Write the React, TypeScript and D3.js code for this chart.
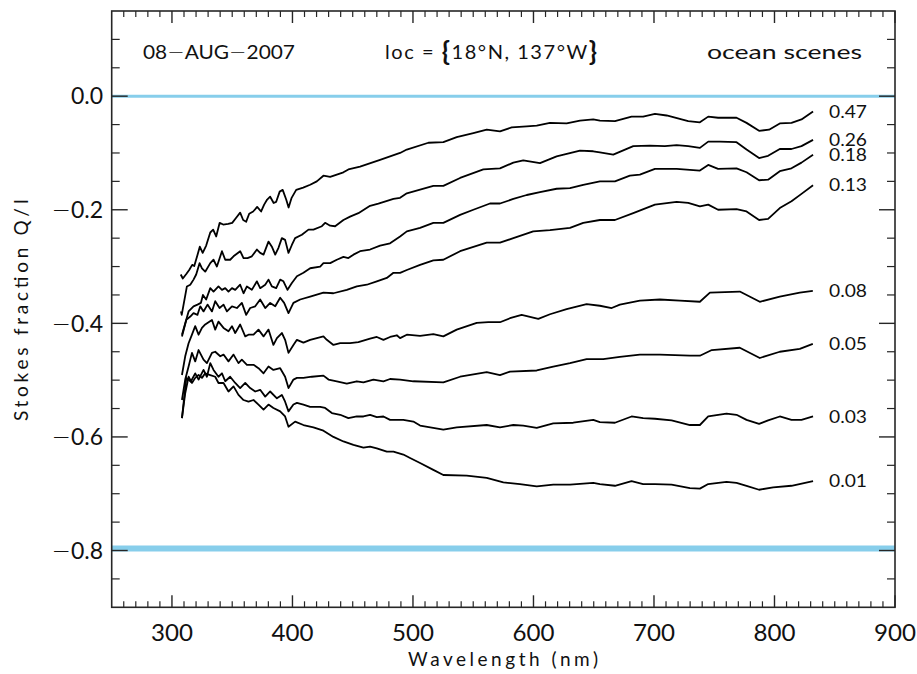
import React from "react";
import * as d3 from "d3";

// ---------- data (wavelength nm, Stokes fraction Q/I) ----------
const c047: [number, number][] = [[307.3,-0.314],[309.0,-0.321],[311.9,-0.313],[314.3,-0.306],[316.8,-0.297],[318.5,-0.299],[321.0,-0.281],[323.1,-0.265],[325.5,-0.276],[328.4,-0.263],[331.8,-0.240],[334.2,-0.235],[336.7,-0.247],[339.6,-0.223],[342.5,-0.226],[346.7,-0.225],[350.0,-0.223],[353.3,-0.214],[356.6,-0.205],[359.1,-0.218],[361.6,-0.221],[364.1,-0.207],[367.4,-0.203],[370.7,-0.195],[374.0,-0.203],[376.5,-0.191],[379.0,-0.182],[381.5,-0.177],[384.4,-0.188],[386.5,-0.186],[389.4,-0.168],[391.9,-0.165],[394.8,-0.182],[396.8,-0.196],[399.3,-0.179],[403.1,-0.165],[408.9,-0.161],[414.7,-0.156],[420.2,-0.150],[425.7,-0.140],[431.3,-0.142],[442.3,-0.134],[446.4,-0.129],[456.1,-0.124],[472.7,-0.112],[489.3,-0.100],[494.9,-0.094],[512.8,-0.082],[525.2,-0.081],[536.3,-0.072],[550.1,-0.065],[561.2,-0.059],[572.2,-0.062],[581.9,-0.055],[594.4,-0.053],[602.7,-0.052],[613.7,-0.047],[627.5,-0.048],[638.6,-0.043],[649.6,-0.041],[655.1,-0.043],[667.6,-0.044],[681.4,-0.036],[691.0,-0.036],[700.8,-0.031],[710.5,-0.034],[728.4,-0.044],[738.1,-0.046],[745.0,-0.036],[753.2,-0.038],[768.5,-0.038],[776.8,-0.047],[787.2,-0.061],[795.5,-0.059],[804.4,-0.048],[814.1,-0.047],[822.4,-0.041],[832.0,-0.027]];
const c026: [number, number][] = [[307.5,-0.379],[308.1,-0.385],[312.4,-0.335],[315.2,-0.332],[317.9,-0.323],[320.1,-0.314],[322.9,-0.294],[324.9,-0.303],[327.6,-0.309],[331.8,-0.294],[334.5,-0.288],[337.3,-0.300],[341.5,-0.273],[344.2,-0.288],[348.3,-0.288],[351.1,-0.282],[356.6,-0.273],[359.4,-0.285],[362.7,-0.285],[366.3,-0.282],[370.5,-0.270],[373.2,-0.276],[376.0,-0.279],[380.1,-0.256],[382.9,-0.265],[385.7,-0.279],[388.4,-0.267],[391.2,-0.250],[393.9,-0.253],[396.7,-0.276],[399.5,-0.262],[402.2,-0.250],[407.8,-0.244],[413.3,-0.235],[417.4,-0.235],[424.4,-0.229],[427.1,-0.223],[431.3,-0.228],[435.4,-0.229],[442.3,-0.218],[447.8,-0.212],[454.7,-0.206],[464.4,-0.193],[471.3,-0.189],[483.8,-0.181],[489.3,-0.179],[494.9,-0.171],[516.9,-0.158],[525.2,-0.158],[539.1,-0.144],[558.4,-0.129],[572.2,-0.127],[583.3,-0.117],[591.5,-0.113],[605.4,-0.118],[619.2,-0.106],[638.6,-0.096],[649.6,-0.097],[655.1,-0.099],[666.2,-0.103],[682.8,-0.088],[696.6,-0.087],[709.0,-0.088],[718.8,-0.086],[728.4,-0.088],[738.1,-0.091],[745.0,-0.080],[754.6,-0.080],[768.5,-0.081],[776.8,-0.094],[787.2,-0.109],[794.7,-0.105],[804.4,-0.093],[814.1,-0.093],[822.4,-0.088],[832.0,-0.077]];
const c018: [number, number][] = [[308.3,-0.420],[313.8,-0.379],[317.9,-0.370],[321.2,-0.367],[324.0,-0.364],[325.7,-0.350],[328.4,-0.358],[331.8,-0.338],[334.5,-0.344],[338.6,-0.335],[341.5,-0.341],[344.2,-0.338],[346.9,-0.344],[349.8,-0.338],[352.5,-0.341],[356.6,-0.332],[359.4,-0.347],[362.2,-0.335],[366.3,-0.341],[370.5,-0.326],[373.2,-0.338],[377.4,-0.332],[380.1,-0.323],[382.9,-0.335],[386.5,-0.338],[389.8,-0.323],[392.5,-0.326],[395.9,-0.341],[399.5,-0.329],[403.7,-0.317],[409.1,-0.311],[414.7,-0.303],[423.0,-0.300],[425.7,-0.294],[431.3,-0.294],[436.8,-0.288],[442.3,-0.283],[446.4,-0.285],[450.6,-0.279],[456.1,-0.273],[464.4,-0.270],[472.7,-0.263],[481.0,-0.259],[489.3,-0.247],[494.9,-0.238],[505.9,-0.232],[516.9,-0.223],[525.2,-0.223],[539.1,-0.209],[550.1,-0.200],[563.9,-0.189],[572.2,-0.189],[583.3,-0.181],[594.4,-0.174],[605.4,-0.169],[619.2,-0.163],[630.3,-0.162],[641.3,-0.156],[655.1,-0.150],[667.6,-0.150],[680.0,-0.140],[688.3,-0.138],[700.8,-0.128],[718.8,-0.128],[738.1,-0.131],[745.0,-0.121],[753.2,-0.128],[768.5,-0.127],[776.8,-0.134],[787.2,-0.148],[794.7,-0.147],[804.4,-0.132],[814.1,-0.127],[822.4,-0.117],[832.0,-0.103]];
const c013: [number, number][] = [[308.3,-0.423],[311.9,-0.394],[315.2,-0.388],[317.9,-0.382],[321.2,-0.385],[323.5,-0.370],[326.2,-0.379],[329.5,-0.367],[333.2,-0.379],[335.9,-0.361],[339.5,-0.373],[342.8,-0.367],[345.6,-0.379],[349.8,-0.370],[353.9,-0.373],[358.0,-0.364],[361.6,-0.385],[364.9,-0.373],[369.1,-0.370],[373.2,-0.358],[377.4,-0.373],[381.5,-0.364],[385.7,-0.370],[389.8,-0.355],[393.1,-0.364],[396.7,-0.382],[400.8,-0.364],[406.4,-0.358],[414.7,-0.353],[425.7,-0.346],[434.0,-0.347],[445.1,-0.341],[453.4,-0.335],[461.7,-0.332],[470.0,-0.326],[478.3,-0.320],[483.8,-0.311],[489.3,-0.311],[494.9,-0.306],[505.9,-0.297],[516.9,-0.289],[525.2,-0.288],[539.1,-0.273],[561.2,-0.258],[572.2,-0.258],[583.3,-0.250],[599.8,-0.238],[613.7,-0.236],[630.3,-0.232],[641.3,-0.223],[655.1,-0.218],[667.6,-0.218],[682.8,-0.206],[700.8,-0.191],[718.8,-0.186],[728.4,-0.188],[738.1,-0.194],[745.0,-0.191],[753.2,-0.200],[768.5,-0.199],[776.8,-0.203],[787.2,-0.218],[794.7,-0.216],[804.4,-0.197],[814.1,-0.185],[822.4,-0.172],[832.0,-0.157]];
const c008: [number, number][] = [[308.3,-0.491],[311.0,-0.458],[313.8,-0.435],[316.6,-0.420],[319.3,-0.405],[322.1,-0.420],[324.9,-0.408],[327.6,-0.402],[333.2,-0.394],[335.9,-0.411],[338.6,-0.397],[342.8,-0.408],[346.9,-0.414],[349.8,-0.405],[352.5,-0.417],[356.6,-0.402],[360.8,-0.423],[363.5,-0.420],[367.7,-0.420],[371.8,-0.411],[376.0,-0.423],[380.1,-0.411],[384.2,-0.438],[387.1,-0.426],[391.2,-0.417],[393.9,-0.429],[396.7,-0.452],[400.8,-0.438],[403.7,-0.429],[409.1,-0.434],[414.7,-0.429],[425.7,-0.423],[428.5,-0.429],[434.0,-0.438],[439.6,-0.435],[447.8,-0.435],[454.7,-0.433],[464.4,-0.427],[470.0,-0.424],[475.5,-0.429],[481.0,-0.424],[486.6,-0.421],[489.3,-0.426],[494.9,-0.420],[505.9,-0.422],[516.9,-0.419],[525.2,-0.423],[536.3,-0.411],[552.9,-0.399],[562.5,-0.398],[572.2,-0.398],[580.5,-0.391],[590.2,-0.385],[604.0,-0.392],[613.7,-0.384],[627.5,-0.375],[644.1,-0.366],[655.1,-0.369],[664.9,-0.373],[671.7,-0.367],[688.3,-0.360],[704.9,-0.358],[721.5,-0.360],[738.1,-0.362],[746.4,-0.346],[771.2,-0.344],[787.8,-0.362],[804.4,-0.353],[821.0,-0.346],[831.8,-0.343]];
const c005: [number, number][] = [[308.3,-0.535],[311.0,-0.499],[313.8,-0.476],[316.6,-0.452],[319.3,-0.467],[322.1,-0.447],[326.2,-0.464],[329.0,-0.470],[333.2,-0.452],[335.9,-0.450],[340.1,-0.458],[342.8,-0.455],[346.9,-0.467],[351.1,-0.455],[355.2,-0.470],[358.0,-0.464],[362.2,-0.473],[367.7,-0.473],[371.8,-0.479],[376.0,-0.488],[380.1,-0.476],[384.2,-0.482],[389.8,-0.479],[393.9,-0.494],[396.7,-0.514],[400.8,-0.499],[403.7,-0.496],[409.1,-0.496],[416.1,-0.494],[425.7,-0.492],[429.9,-0.499],[436.8,-0.502],[445.1,-0.506],[453.4,-0.502],[458.9,-0.504],[467.2,-0.499],[475.5,-0.502],[481.0,-0.498],[489.3,-0.499],[500.3,-0.502],[525.2,-0.504],[539.1,-0.494],[561.2,-0.486],[572.2,-0.491],[580.5,-0.485],[602.7,-0.483],[616.4,-0.476],[630.3,-0.470],[644.1,-0.463],[657.9,-0.463],[671.7,-0.459],[688.3,-0.455],[704.9,-0.455],[729.8,-0.457],[738.1,-0.457],[748.0,-0.447],[771.2,-0.443],[787.8,-0.461],[804.4,-0.450],[821.0,-0.445],[831.8,-0.436]];
const c003: [number, number][] = [[308.3,-0.567],[311.0,-0.523],[313.8,-0.494],[315.8,-0.502],[319.3,-0.488],[322.1,-0.499],[326.2,-0.482],[329.0,-0.494],[331.8,-0.470],[334.5,-0.482],[338.6,-0.494],[341.5,-0.488],[344.2,-0.502],[348.3,-0.494],[352.5,-0.505],[356.6,-0.514],[360.8,-0.505],[364.9,-0.514],[369.1,-0.520],[373.2,-0.517],[377.4,-0.529],[381.5,-0.520],[387.1,-0.532],[391.2,-0.526],[393.9,-0.538],[396.7,-0.555],[400.8,-0.543],[403.7,-0.540],[409.1,-0.543],[414.7,-0.547],[423.0,-0.547],[427.1,-0.549],[432.7,-0.558],[439.6,-0.561],[446.4,-0.567],[453.4,-0.564],[458.9,-0.564],[464.4,-0.561],[470.0,-0.565],[475.5,-0.564],[481.0,-0.570],[492.0,-0.570],[500.3,-0.573],[505.9,-0.580],[525.2,-0.587],[536.3,-0.583],[561.2,-0.579],[572.2,-0.583],[583.3,-0.579],[591.5,-0.580],[602.7,-0.584],[616.4,-0.576],[633.0,-0.575],[649.6,-0.570],[655.1,-0.574],[667.6,-0.575],[681.4,-0.564],[691.0,-0.567],[700.8,-0.568],[714.6,-0.571],[729.8,-0.579],[738.1,-0.579],[745.0,-0.564],[760.2,-0.559],[768.5,-0.561],[776.8,-0.570],[787.2,-0.577],[794.7,-0.571],[804.4,-0.564],[814.1,-0.570],[822.4,-0.570],[832.0,-0.564]];
const c001: [number, number][] = [[308.3,-0.567],[311.9,-0.496],[313.8,-0.499],[316.6,-0.505],[319.3,-0.496],[322.1,-0.491],[324.9,-0.496],[327.6,-0.488],[331.8,-0.491],[335.9,-0.494],[338.6,-0.505],[342.8,-0.505],[346.9,-0.520],[351.1,-0.511],[355.2,-0.526],[359.4,-0.535],[363.5,-0.538],[367.7,-0.535],[371.8,-0.543],[376.0,-0.552],[380.1,-0.543],[384.2,-0.549],[389.8,-0.555],[393.9,-0.564],[396.7,-0.582],[402.2,-0.573],[409.1,-0.579],[417.4,-0.583],[425.7,-0.589],[434.0,-0.600],[442.3,-0.608],[450.6,-0.614],[458.9,-0.619],[464.4,-0.617],[470.0,-0.620],[478.3,-0.626],[483.8,-0.626],[492.0,-0.631],[497.6,-0.637],[505.9,-0.646],[516.9,-0.658],[525.2,-0.667],[544.6,-0.668],[561.2,-0.672],[575.0,-0.680],[588.8,-0.683],[602.7,-0.687],[616.4,-0.684],[630.3,-0.684],[649.6,-0.681],[655.1,-0.683],[667.6,-0.686],[681.4,-0.678],[691.0,-0.683],[700.8,-0.683],[714.6,-0.684],[729.8,-0.690],[738.1,-0.691],[745.0,-0.683],[760.2,-0.679],[768.5,-0.681],[776.8,-0.686],[787.2,-0.693],[798.9,-0.689],[814.1,-0.686],[832.0,-0.678]];

const curves = [c047, c026, c018, c013, c008, c005, c003, c001];
const curveLabels = ["0.47", "0.26", "0.18", "0.13", "0.08", "0.05", "0.03", "0.01"];

const xDomain: [number, number] = [250, 900];
const yDomain: [number, number] = [-0.9, 0.15];
const xMajorTicks = [300, 400, 500, 600, 700, 800, 900];
const yMajorTicks = [-0.8, -0.6, -0.4, -0.2, 0.0];
const refValues = [0.0, -0.7965];

const titleDateParts = ["08", "AUG", "2007"];
const titleScene = "ocean scenes";
const xTitle = "Wavelength (nm)";
const yTitle = "Stokes fraction Q/I";

// ---------- layout ----------
const W = 917, H = 674;
const L = 111.7, R = 895, T = 11, B = 607.3;
const FONT = "Lato, 'DejaVu Sans', sans-serif";
const MINUS_FONT = "'DejaVu Sans', sans-serif";
const FW = 400;
const AX = "#262626";
const TXT = "#111";

function Minus() {
  return <tspan fontFamily={MINUS_FONT} fontWeight={200}>{"\u2212"}</tspan>;
}

export default function App() {
  const x = d3.scaleLinear().domain(xDomain).range([L, R]);
  const y = d3.scaleLinear().domain(yDomain).range([B, T]);
  const line = d3.line<[number, number]>().x(d => x(d[0])).y(d => y(d[1]));

  const xMinor = d3.range(260, 900, 10).filter(v => v % 100 !== 0);
  const yMinor = d3.range(-0.85, 0.15, 0.05).map(v => +v.toFixed(2)).filter(v => Math.abs(Math.round(v * 100) % 20) !== 0);
  const fmtAbs = (v: number) => d3.format(".1f")(Math.abs(v));

  return (
    <svg width={W} height={H} style={{ position: "absolute", left: 0, top: 0, background: "#fff" }} fontFamily={FONT} fontWeight={FW}>
      <rect x={0} y={0} width={W} height={H} fill="#fff" />
      {/* reference lines */}
      <line x1={L} x2={R} y1={y(refValues[0])} y2={y(refValues[0])} stroke="#87CEEB" strokeWidth={3} />
      <line x1={L} x2={R} y1={y(refValues[1])} y2={y(refValues[1])} stroke="#87CEEB" strokeWidth={6} />

      {/* curves */}
      {curves.map((c, i) => (
        <path key={i} d={line(c) || ""} fill="none" stroke="#000" strokeWidth={1.8} strokeLinejoin="round" />
      ))}
      {curves.map((c, i) => (
        <text key={"l" + i} x={829} y={y(c[c.length - 1][1])} dy="0.36em" fontSize={17} fill={TXT} textLength={38} lengthAdjust="spacingAndGlyphs">{curveLabels[i]}</text>
      ))}

      {/* frame */}
      <rect x={L} y={T} width={R - L} height={B - T} fill="none" stroke={AX} strokeWidth={1.6} />
      {/* x ticks bottom & top */}
      {xMajorTicks.map(v => (
        <g key={"xm" + v}>
          <line x1={x(v)} x2={x(v)} y1={B} y2={B - 12} stroke={AX} strokeWidth={1.4} />
          <line x1={x(v)} x2={x(v)} y1={T} y2={T + 12} stroke={AX} strokeWidth={1.4} />
          <text x={x(v)} y={641} textAnchor="middle" fontSize={23} fill={TXT} textLength={42} lengthAdjust="spacingAndGlyphs">{v}</text>
        </g>
      ))}
      {xMinor.map(v => (
        <g key={"xn" + v}>
          <line x1={x(v)} x2={x(v)} y1={B} y2={B - 6} stroke={AX} strokeWidth={1.2} />
          <line x1={x(v)} x2={x(v)} y1={T} y2={T + 6} stroke={AX} strokeWidth={1.2} />
        </g>
      ))}
      {/* y ticks left & right */}
      {yMajorTicks.map(v => (
        <g key={"ym" + v}>
          <line x1={L} x2={L + 16} y1={y(v)} y2={y(v)} stroke={AX} strokeWidth={1.4} />
          <line x1={R} x2={R - 16} y1={y(v)} y2={y(v)} stroke={AX} strokeWidth={1.4} />
          <text x={103} y={y(v)} dy="0.36em" textAnchor="end" fontSize={23} fill={TXT}>
            {v < 0 ? <Minus /> : null}{fmtAbs(v)}
          </text>
        </g>
      ))}
      {yMinor.map(v => (
        <g key={"yn" + v}>
          <line x1={L} x2={L + 8} y1={y(v)} y2={y(v)} stroke={AX} strokeWidth={1.2} />
          <line x1={R} x2={R - 8} y1={y(v)} y2={y(v)} stroke={AX} strokeWidth={1.2} />
        </g>
      ))}

      {/* titles */}
      <text x={143} y={59} fontSize={20} fill={TXT} textLength={152} lengthAdjust="spacingAndGlyphs">
        {titleDateParts[0]}<Minus />{titleDateParts[1]}<Minus />{titleDateParts[2]}
      </text>
      <text x={385} y={59} fontSize={20} fill={TXT} textLength={212} lengthAdjust="spacing">
        <tspan>loc = </tspan>
        <tspan fontSize={27} dy={2} fontWeight={700}>{"{"}</tspan>
        <tspan dy={-2}>18°N, 137°W</tspan>
        <tspan fontSize={27} dy={2} fontWeight={700}>{"}"}</tspan>
      </text>
      <text x={862} y={59} textAnchor="end" fontSize={20} fill={TXT} textLength={155} lengthAdjust="spacingAndGlyphs">{titleScene}</text>
      <text x={503} y={666} textAnchor="middle" fontSize={19} fill={TXT} textLength={190} lengthAdjust="spacing">{xTitle}</text>
      <text transform={`translate(28,${310}) rotate(-90)`} textAnchor="middle" fontSize={19} fill={TXT} textLength={222} lengthAdjust="spacing">{yTitle}</text>
    </svg>
  );
}
